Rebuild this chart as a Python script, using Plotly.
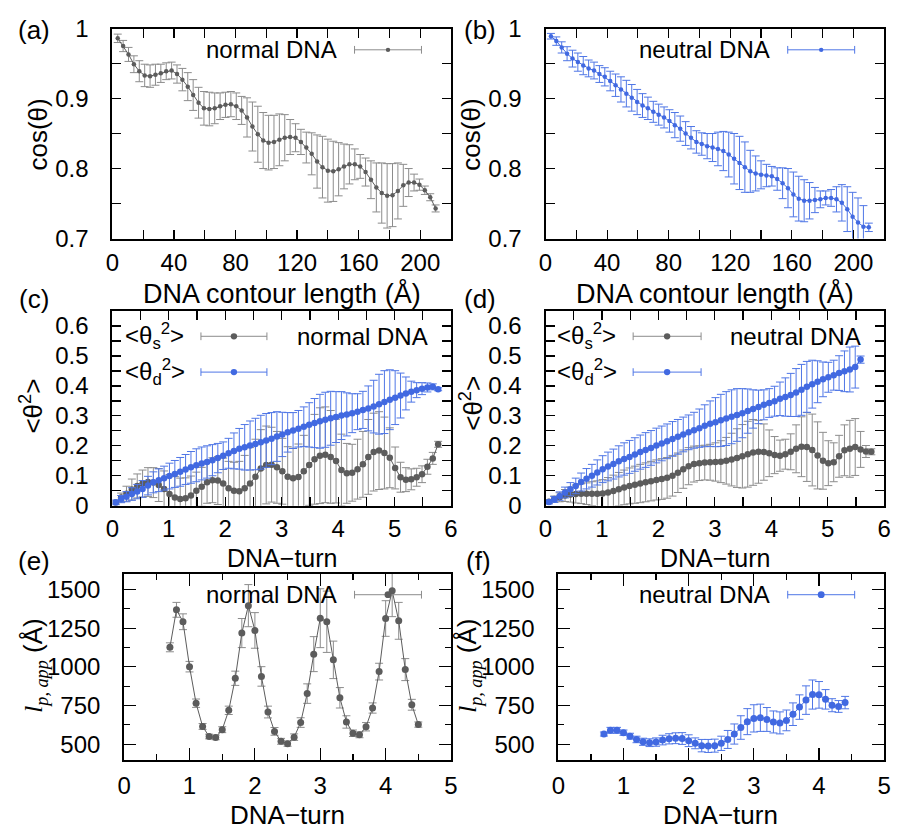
import plotly.graph_objects as go

W, H = 904, 840
FONT = "Liberation Sans, Arial, sans-serif"
GREY = "#5c5c5c"
GREY_ERR = "#8c8c8c"
BLUE = "#4169e1"
BLUE_ERR = "#4f76e6"

# ---------------- data ----------------
contour_step = 3.5
contour_length = [round(contour_step * i, 2) for i in range(1, 61)]

cos_normal = [.986, .975, .963, .949, .939, .933, .932, .934, .936, .939,
              .940, .935, .927, .917, .905, .894, .886, .885, .886, .889,
              .891, .892, .889, .883, .873, .860, .849, .840, .837, .838,
              .841, .844, .845, .844, .838, .830, .821, .810, .802, .797,
              .796, .799, .803, .806, .806, .803, .795, .784, .773, .765,
              .761, .762, .768, .776, .780, .780, .777, .769, .759, .743]
cos_normal_err = [.006, .008, .010, .012, .015, .016, .016, .015, .013, .012,
                  .012, .013, .016, .020, .022, .022, .024, .024, .022, .019,
                  .018, .018, .019, .020, .028, .035, .040, .040, .039, .038,
                  .037, .033, .025, .020, .018, .022, .030, .038, .044, .045,
                  .043, .038, .032, .028, .022, .017, .020, .027, .035, .043,
                  .046, .045, .040, .030, .020, .012, .008, .006, .005, .005]

cos_neutral = [.989, .982, .973, .964, .957, .952, .947, .943, .940, .935,
               .931, .925, .919, .913, .907, .901, .895, .890, .886, .881,
               .877, .873, .868, .862, .857, .850, .844, .838, .835, .832,
               .830, .828, .825, .820, .814, .808, .802, .796, .793, .791,
               .790, .789, .785, .779, .772, .763, .757, .754, .754, .755,
               .756, .758, .758, .756, .751, .742, .731, .723, .717, .716]
cos_neutral_err = [.004, .006, .008, .010, .012, .013, .013, .012, .012, .012,
                   .013, .014, .016, .018, .019, .019, .018, .017, .016, .015,
                   .015, .015, .016, .018, .018, .017, .016, .016, .016, .018,
                   .020, .024, .028, .032, .036, .038, .036, .030, .025, .020,
                   .016, .014, .016, .022, .028, .032, .032, .030, .026, .018,
                   .012, .010, .012, .018, .026, .032, .035, .035, .030, .006]

turn_step = 0.0952
turn_offset = 0.06
dna_turn = [round(turn_offset + turn_step * i, 4) for i in range(61)]

theta_s_normal = [.011, .027, .040, .054, .066, .074, .079, .077, .069, .056,
                  .039, .027, .022, .025, .034, .050, .063, .078, .085, .084,
                  .074, .058, .050, .048, .058, .074, .097, .124, .136, .137,
                  .128, .115, .097, .092, .096, .115, .136, .155, .167, .170,
                  .163, .149, .119, .108, .110, .122, .138, .163, .179, .184,
                  .176, .160, .126, .095, .087, .088, .095, .105, .130, .158,
                  .205]
theta_s_normal_err = [.005, .015, .025, .035, .040, .045, .048, .050, .055, .060,
                      .065, .070, .070, .068, .065, .062, .065, .070, .075, .080,
                      .085, .090, .095, .100, .110, .120, .125, .130, .130, .125,
                      .120, .110, .100, .100, .110, .120, .135, .150, .160, .160,
                      .155, .140, .120, .100, .095, .100, .110, .125, .130, .130,
                      .120, .100, .070, .050, .040, .035, .030, .028, .025, .020,
                      .010]
theta_d_normal = [.011, .022, .030, .039, .047, .056, .067, .078, .085, .092,
                  .099, .106, .113, .121, .128, .135, .141, .146, .152, .159,
                  .167, .175, .183, .190, .195, .201, .206, .212, .218, .224,
                  .231, .238, .245, .251, .257, .264, .270, .276, .282, .287,
                  .292, .296, .301, .305, .309, .314, .320, .325, .331, .339,
                  .346, .354, .361, .368, .375, .381, .386, .391, .395, .397,
                  .389]
theta_d_normal_err = [.008, .012, .017, .021, .024, .028, .031, .035, .038, .040,
                      .043, .045, .048, .050, .053, .055, .055, .054, .052, .049,
                      .046, .050, .060, .068, .076, .082, .086, .090, .090, .087,
                      .083, .074, .066, .060, .061, .066, .074, .082, .090, .092,
                      .090, .085, .080, .072, .065, .060, .062, .075, .088, .100,
                      .105, .100, .090, .075, .055, .035, .025, .020, .015, .010,
                      .005]

theta_s_neutral = [.013, .022, .028, .034, .037, .039, .040, .040, .040, .040,
                   .041, .044, .049, .055, .061, .066, .070, .074, .078, .082,
                   .086, .089, .093, .100, .110, .122, .132, .139, .142, .144,
                   .145, .146, .147, .150, .154, .159, .165, .172, .178, .180,
                   .179, .175, .169, .167, .172, .180, .190, .197, .196, .186,
                   .168, .150, .142, .145, .165, .185, .190, .196, .188, .181,
                   .180]
theta_s_neutral_err = [.005, .010, .015, .020, .025, .030, .033, .036, .040, .043,
                       .046, .050, .053, .056, .058, .060, .062, .064, .065, .066,
                       .067, .068, .068, .068, .066, .064, .062, .060, .058, .058,
                       .060, .064, .070, .078, .088, .098, .106, .110, .110, .105,
                       .094, .078, .062, .052, .050, .060, .080, .100, .115, .120,
                       .112, .095, .075, .065, .070, .085, .095, .095, .060, .020,
                       .010]
theta_d_neutral = [.012, .021, .032, .044, .055, .066, .079, .090, .100, .111,
                   .122, .131, .139, .148, .156, .163, .171, .179, .186, .193,
                   .201, .208, .215, .223, .230, .238, .245, .252, .259, .267,
                   .274, .279, .285, .291, .297, .303, .309, .316, .323, .330,
                   .337, .343, .349, .357, .363, .370, .378, .387, .397, .406,
                   .414, .422, .429, .436, .443, .449, .455, .463, .488]
theta_d_neutral_err = [.006, .010, .014, .018, .022, .026, .030, .034, .038, .042,
                       .045, .048, .050, .052, .054, .055, .056, .057, .058, .058,
                       .058, .058, .058, .058, .058, .058, .058, .060, .064, .070,
                       .076, .082, .087, .090, .090, .088, .082, .074, .064, .056,
                       .050, .048, .050, .056, .064, .072, .080, .085, .085, .080,
                       .070, .058, .050, .050, .058, .068, .075, .070, .012]

lp_turn_normal = [0.7, 0.8, 0.9, 1.0, 1.1, 1.2, 1.3, 1.4, 1.5, 1.6, 1.7, 1.8, 1.9,
                  2.0, 2.1, 2.2, 2.3, 2.4, 2.5, 2.6, 2.7, 2.8, 2.9, 3.0, 3.1, 3.2,
                  3.3, 3.4, 3.5, 3.6, 3.7, 3.8, 3.9, 4.0, 4.1, 4.2, 4.3, 4.4, 4.5]
lp_normal = [1126, 1368, 1291, 1001, 765, 615, 550, 544, 594, 719, 926, 1218, 1395,
             1235, 938, 708, 583, 519, 504, 546, 640, 827, 1082, 1314, 1291, 1045,
             800, 644, 571, 561, 613, 734, 969, 1312, 1491, 1297, 982, 755, 627]
lp_normal_err = [29, 48, 51, 34, 27, 19, 15, 15, 19, 27, 46, 94, 136,
                 115, 63, 38, 25, 19, 17, 21, 31, 63, 113, 190, 198, 121,
                 66, 40, 21, 19, 27, 33, 54, 115, 167, 119, 71, 35, 17]

lp_turn_neutral = [0.7, 0.8, 0.9, 1.0, 1.1, 1.2, 1.3, 1.4, 1.5, 1.6, 1.7, 1.8, 1.9,
                   2.0, 2.1, 2.2, 2.3, 2.4, 2.5, 2.6, 2.7, 2.8, 2.9, 3.0, 3.1, 3.2,
                   3.3, 3.4, 3.5, 3.6, 3.7, 3.8, 3.9, 4.0, 4.1, 4.2, 4.3, 4.4]
lp_neutral = [566, 590, 590, 575, 552, 531, 516, 510, 514, 527, 535, 539, 537,
              523, 506, 491, 489, 491, 506, 531, 566, 608, 646, 667, 671, 660,
              644, 638, 654, 694, 740, 785, 821, 819, 790, 752, 744, 769]
lp_neutral_err = [13, 19, 19, 17, 19, 21, 23, 25, 27, 31, 33, 35, 38,
                  38, 35, 40, 42, 42, 46, 58, 65, 76, 84, 88, 88, 77,
                  71, 71, 67, 73, 79, 92, 94, 86, 63, 42, 38, 40]

# ---------------- layout geometry (pixels) ----------------
frames = {
    1: (107, 451, 15, 232),
    2: (547, 891, 15, 232),
    3: (107, 451, 307, 508),
    4: (547, 891, 307, 508),
    5: (119, 451, 578.5, 770.5),
    6: (560, 891, 578.5, 770.5),
}


def fx(p):
    return p / W


def fy(p):
    return 1 - p / H


fig = go.Figure()


def add_series(n, x, y, err, color, ecolor, msize):
    fig.add_trace(go.Scatter(
        x=x, y=y, mode="lines+markers",
        xaxis="x" if n == 1 else f"x{n}", yaxis="y" if n == 1 else f"y{n}",
        line=dict(color=color, width=1),
        marker=dict(color=color, size=msize, line=dict(width=0)),
        error_y=dict(type="data", array=err, visible=True, color=ecolor,
                     thickness=1, width=4),
        showlegend=False, hoverinfo="skip"))


add_series(1, contour_length, cos_normal, cos_normal_err, GREY, GREY_ERR, 4.5)
add_series(2, contour_length, cos_neutral, cos_neutral_err, BLUE, BLUE_ERR, 4.5)
add_series(3, dna_turn, theta_s_normal, theta_s_normal_err, GREY, GREY_ERR, 6.5)
add_series(3, dna_turn, theta_d_normal, theta_d_normal_err, BLUE, BLUE_ERR, 6.5)
add_series(4, dna_turn, theta_s_neutral, theta_s_neutral_err, GREY, GREY_ERR, 6.5)
add_series(4, dna_turn[:len(theta_d_neutral)], theta_d_neutral, theta_d_neutral_err,
           BLUE, BLUE_ERR, 6.5)
add_series(5, lp_turn_normal, lp_normal, lp_normal_err, GREY, GREY_ERR, 7)
add_series(6, lp_turn_neutral, lp_neutral, lp_neutral_err, BLUE, BLUE_ERR, 7)

axis_specs = {
    1: dict(xr=[0, 220], xd=40, xm=20, yr=[0.7, 1.0], yd=0.1, ym=0.05, big=9, small=9, xs=2),
    2: dict(xr=[0, 220], xd=40, xm=20, yr=[0.7, 1.0], yd=0.1, ym=0.05, big=9, small=9, xs=2),
    3: dict(xr=[0, 6], xd=1, xm=0.5, yr=[0, 0.65], yd=0.1, ym=0.05, big=9, small=9, xs=1),
    4: dict(xr=[0, 6], xd=1, xm=0.5, yr=[0, 0.65], yd=0.1, ym=0.05, big=9, small=9, xs=1),
    5: dict(xr=[0, 5], xd=1, xm=0.5, yr=[400, 1600], yd=250, ym=125, big=12, small=6, xs=3),
    6: dict(xr=[0, 5], xd=1, xm=0.5, yr=[400, 1600], yd=250, ym=125, big=12, small=6, xs=3),
}

layout = dict(
    width=W, height=H, margin=dict(l=0, r=0, t=0, b=0),
    paper_bgcolor="white", plot_bgcolor="white",
    font=dict(family=FONT, size=24, color="black"),
    showlegend=False,
)

for n, (x0, x1, y0, y1) in frames.items():
    s = axis_specs[n]
    xa = "xaxis" if n == 1 else f"xaxis{n}"
    ya = "yaxis" if n == 1 else f"yaxis{n}"
    xid = "x" if n == 1 else f"x{n}"
    yid = "y" if n == 1 else f"y{n}"
    y0tick = 500 if n >= 5 else s["yr"][0]
    layout[xa] = dict(
        domain=[fx(x0), fx(x1)], anchor=yid, range=s["xr"],
        tick0=0, dtick=s["xd"], ticks="inside", ticklen=s["big"], tickwidth=1.2,
        tickcolor="black", showline=True, linecolor="black", linewidth=2,
        mirror="allticks", showgrid=False, zeroline=False,
        ticklabelstandoff=s["xs"], tickfont=dict(size=24),
        minor=dict(dtick=s["xm"], tick0=0, ticks="inside", ticklen=s["small"],
                   tickwidth=1.2, tickcolor="black", showgrid=False),
    )
    layout[ya] = dict(
        domain=[fy(y1), fy(y0)], anchor=xid, range=s["yr"],
        tick0=y0tick, dtick=s["yd"], ticks="inside", ticklen=s["big"], tickwidth=1.2,
        tickcolor="black", showline=True, linecolor="black", linewidth=2,
        mirror="allticks", showgrid=False, zeroline=False,
        ticklabelstandoff=17, tickfont=dict(size=24),
        minor=dict(dtick=s["ym"], tick0=y0tick, ticks="inside", ticklen=s["small"],
                   tickwidth=1.2, tickcolor="black", showgrid=False),
    )

annotations = []
shapes = []


def text(x, y, t, size=24, xanchor="center", yanchor="middle", angle=0):
    annotations.append(dict(
        x=fx(x), y=fy(y), xref="paper", yref="paper", text=t, showarrow=False,
        xanchor=xanchor, yanchor=yanchor, textangle=angle,
        font=dict(family=FONT, size=size, color="black")))


def key(x0, x1, y, lcolor, mcolor, msize):
    shapes.append(dict(type="line", xref="paper", yref="paper",
                       x0=fx(x0), x1=fx(x1), y0=fy(y), y1=fy(y),
                       line=dict(color=lcolor, width=1)))
    for xc in (x0, x1):
        shapes.append(dict(type="line", xref="paper", yref="paper",
                           x0=fx(xc), x1=fx(xc), y0=fy(y - 4), y1=fy(y + 4),
                           line=dict(color=lcolor, width=1)))
    xm = (x0 + x1) / 2
    r = msize / 2
    shapes.append(dict(type="circle", xref="paper", yref="paper",
                       x0=fx(xm - r), x1=fx(xm + r), y0=fy(y + r), y1=fy(y - r),
                       fillcolor=mcolor, line=dict(width=0)))


# panel labels
for lab, (x, y) in {"(a)": (27, 17), "(b)": (480, 17), "(c)": (27, 294),
                    "(d)": (480, 294), "(e)": (27, 565), "(f)": (479, 565)}.items():
    text(x, y, lab, size=26)

# axis titles
text(279, 289, "DNA contour length (Å)", size=27)
text(719, 289, "DNA contour length (Å)", size=27)
text(279, 562, "DNA\u2212turn", size=25)
text(719, 562, "DNA\u2212turn", size=25)
text(285, 828, "DNA\u2212turn", size=26)
text(725, 828, "DNA\u2212turn", size=26)
text(31, 125, "cos(θ)", size=26, angle=-90)
text(471, 125, "cos(θ)", size=26, angle=-90)
text(25, 405, "&lt;θ<sup>2</sup>&gt;", size=26, angle=-90)
text(471, 402, "&lt;θ<sup>2</sup>&gt;", size=26, angle=-90)
lp_title = ("<span style=\"font-family:'Liberation Serif', serif\"><i>l</i>"
            "<sub><i>p, app</i></sub></span> (Å)")
text(28, 673, lp_title, size=26, angle=-90)
text(469, 673, lp_title, size=26, angle=-90)

# legends
text(337, 37, "normal DNA", xanchor="right")
key(353, 421, 37, GREY_ERR, GREY, 4.5)
text(777, 37, "neutral DNA", xanchor="right")
key(793, 861, 37, BLUE_ERR, BLUE, 4.5)

text(118, 333, "&lt;θ<sub>s</sub><sup>2</sup>&gt;", xanchor="left")
key(197, 264, 333, GREY_ERR, GREY, 6.5)
text(118, 370, "&lt;θ<sub>d</sub><sup>2</sup>&gt;", xanchor="left")
key(197, 264, 370, BLUE_ERR, BLUE, 6.5)
text(430, 333, "normal DNA", xanchor="right")

text(557, 333, "&lt;θ<sub>s</sub><sup>2</sup>&gt;", xanchor="left")
key(636, 705, 333, GREY_ERR, GREY, 6.5)
text(557, 370, "&lt;θ<sub>d</sub><sup>2</sup>&gt;", xanchor="left")
key(636, 705, 370, BLUE_ERR, BLUE, 6.5)
text(869, 333, "neutral DNA", xanchor="right")

text(337, 600, "normal DNA", xanchor="right")
key(353, 421, 600, GREY_ERR, GREY, 7)
text(777, 600, "neutral DNA", xanchor="right")
key(793, 861, 600, BLUE_ERR, BLUE, 7)

layout["annotations"] = annotations
layout["shapes"] = shapes
fig.update_layout(**layout)

fig.write_html("out.html",
               config={"displayModeBar": False, "staticPlot": True},
               post_script="document.body.style.margin='0';"
                           "document.body.style.overflow='hidden';")
